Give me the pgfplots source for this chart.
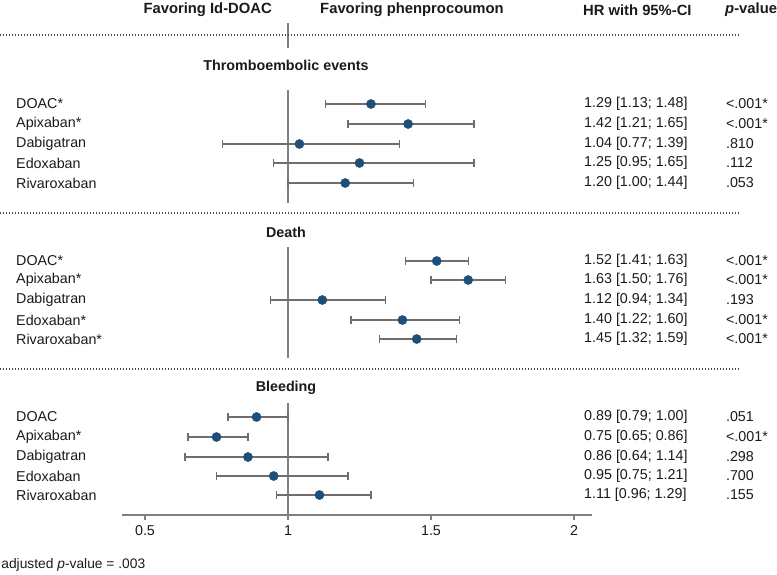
\documentclass[border=0pt]{standalone}
\usepackage{pgfplots}
\pgfplotsset{compat=1.18}
\usepackage{fontspec}
\setmainfont{Liberation Sans}
\definecolor{dotblue}{HTML}{1F4E79}
\definecolor{barg}{HTML}{6E6E6E}
\definecolor{refg}{HTML}{808080}
\definecolor{txt}{HTML}{1A1A1A}
\newcommand\ft{\fontsize{14.3}{16}\selectfont}
\newcommand\fh{\fontsize{14.8}{16}\selectfont}
\newcommand\row[4]{%
  \node[font=\ft, text=txt, anchor=west, inner sep=0pt] at (axis cs:0.049,#1) {#2};
  \node[font=\ft, text=txt, anchor=west, inner sep=0pt] at (axis cs:2.035,#1) {#3};
  \node[font=\ft, text=txt, anchor=west, inner sep=0pt] at (axis cs:2.531,#1) {#4};}
\begin{document}
\begin{tikzpicture}
\begin{axis}[
  scale only axis,
  width=470pt, height=515pt,
  xmin=0.4196, xmax=2.063,
  ymin=-515, ymax=0,
  clip=false,
  axis x line*=bottom,
  axis y line=none,
  axis line style={refg, line width=2.6pt, -},
  xtick={0.5,1,1.5,2},
  xticklabels={0.5,1,1.5,2},
  tick align=outside,
  major tick length=5pt,
  tick style={refg, line width=1.2pt},
  xticklabel style={font=\ft, text=txt, yshift=-2pt},
  /pgf/number format/assume math mode=true,
]
% reference line at HR = 1
\addplot[refg, line width=2.4pt, forget plot] coordinates {(1,-23) (1,-48)};
\addplot[refg, line width=2.4pt, forget plot] coordinates {(1,-90) (1,-203)};
\addplot[refg, line width=2.4pt, forget plot] coordinates {(1,-247) (1,-358)};
\addplot[refg, line width=2.4pt, forget plot] coordinates {(1,-403) (1,-519)};
% dotted separators
\addplot[txt!80, line width=1.3pt, dash pattern=on 1.3pt off 1.7pt, forget plot] coordinates {(-0.007,-35) (2.580,-35)};
\addplot[txt!80, line width=1.3pt, dash pattern=on 1.3pt off 1.7pt, forget plot] coordinates {(-0.007,-213) (2.580,-213)};
\addplot[txt!80, line width=1.3pt, dash pattern=on 1.3pt off 1.7pt, forget plot] coordinates {(-0.007,-369) (2.580,-369)};
% estimates with 95% CI
\addplot[only marks, mark=*, mark size=4.6pt, mark options={fill=dotblue, draw=dotblue},
  error bars/.cd, x dir=both, x explicit,
  error bar style={barg, line width=1.3pt},
  error mark options={barg, rotate=90, mark size=3.8pt, line width=1.3pt}]
coordinates {
  (1.29,-104) += (0.19,0) -= (0.16,0)
  (1.42,-124) += (0.23,0) -= (0.21,0)
  (1.04,-144) += (0.35,0) -= (0.27,0)
  (1.25,-163) += (0.40,0) -= (0.30,0)
  (1.20,-183) += (0.24,0) -= (0.20,0)
  (1.52,-261) += (0.11,0) -= (0.11,0)
  (1.63,-280) += (0.13,0) -= (0.13,0)
  (1.12,-300) += (0.22,0) -= (0.18,0)
  (1.40,-320) += (0.20,0) -= (0.18,0)
  (1.45,-339) += (0.14,0) -= (0.13,0)
  (0.89,-417) += (0.11,0) -= (0.10,0)
  (0.75,-437) += (0.11,0) -= (0.10,0)
  (0.86,-457) += (0.28,0) -= (0.22,0)
  (0.95,-476) += (0.26,0) -= (0.20,0)
  (1.11,-495) += (0.18,0) -= (0.15,0)
};
% header
\node[font=\fh\bfseries, text=txt, anchor=east, inner sep=0pt] at (axis cs:0.944,-10) {Favoring Id-DOAC};
\node[font=\fh\bfseries, text=txt, anchor=west, inner sep=0pt] at (axis cs:1.112,-10) {Favoring phenprocoumon};
\node[font=\fh\bfseries, text=txt, anchor=west, inner sep=0pt] at (axis cs:2.031,-10) {HR with 95\%-CI};
\node[font=\fh\bfseries, text=txt, anchor=west, inner sep=0pt] at (axis cs:2.528,-10) {\textit{p}-value};
% section titles
\node[font=\ft\bfseries, text=txt] at (axis cs:0.993,-65) {Thromboembolic events};
\node[font=\ft\bfseries, text=txt] at (axis cs:0.993,-232) {Death};
\node[font=\ft\bfseries, text=txt] at (axis cs:0.993,-388) {Bleeding};
% rows
\row{-104}{DOAC*}{1.29 [1.13; 1.48]}{<.001*}
\row{-124}{Apixaban*}{1.42 [1.21; 1.65]}{<.001*}
\row{-144}{Dabigatran}{1.04 [0.77; 1.39]}{.810}
\row{-163}{Edoxaban}{1.25 [0.95; 1.65]}{.112}
\row{-183}{Rivaroxaban}{1.20 [1.00; 1.44]}{.053}
\row{-261}{DOAC*}{1.52 [1.41; 1.63]}{<.001*}
\row{-280}{Apixaban*}{1.63 [1.50; 1.76]}{<.001*}
\row{-300}{Dabigatran}{1.12 [0.94; 1.34]}{.193}
\row{-320}{Edoxaban*}{1.40 [1.22; 1.60]}{<.001*}
\row{-339}{Rivaroxaban*}{1.45 [1.32; 1.59]}{<.001*}
\row{-417}{DOAC}{0.89 [0.79; 1.00]}{.051}
\row{-437}{Apixaban*}{0.75 [0.65; 0.86]}{<.001*}
\row{-457}{Dabigatran}{0.86 [0.64; 1.14]}{.298}
\row{-476}{Edoxaban}{0.95 [0.75; 1.21]}{.700}
\row{-495}{Rivaroxaban}{1.11 [0.96; 1.29]}{.155}
\node[font=\fontsize{13.8}{15}\selectfont, text=txt, anchor=west, inner sep=0pt] at (axis cs:-0.003,-565) {adjusted \textit{p}-value = .003};
\coordinate (tl) at (axis cs:-0.007,0);
\coordinate (br) at (axis cs:2.7098,-574);
\end{axis}
\pgfresetboundingbox
\path (tl) rectangle (br);
\end{tikzpicture}
\end{document}
